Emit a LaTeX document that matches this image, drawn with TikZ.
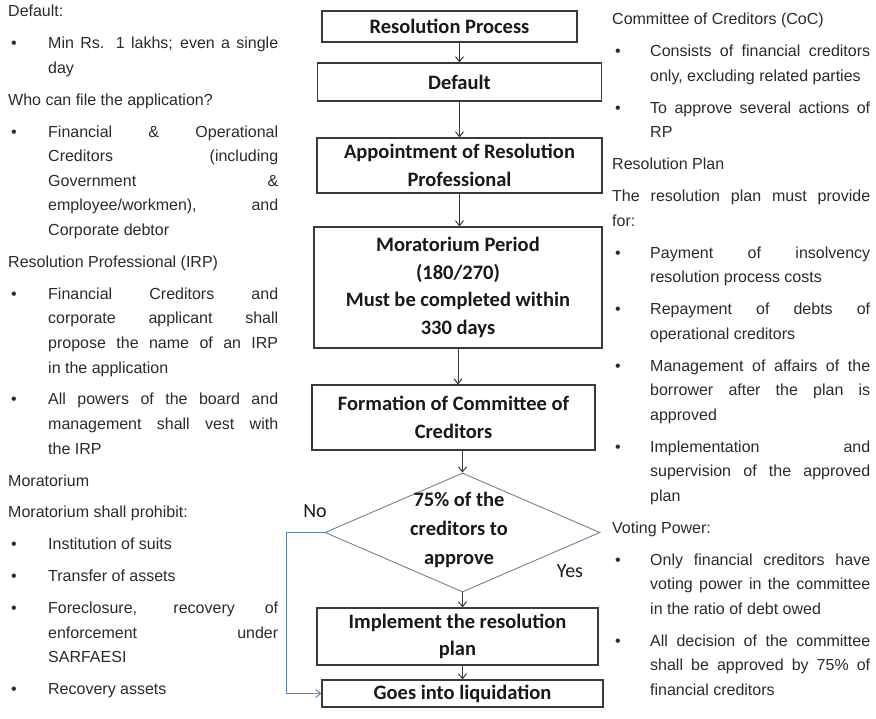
\documentclass[tikz,border=0pt]{standalone}
\usepackage{fontspec}
\setmainfont{Liberation Sans}
\newfontfamily\boxfont{Carlito}
\usetikzlibrary{positioning,shapes,arrows,arrows.meta}

\definecolor{notegray}{HTML}{2B2B2B}
\definecolor{boxgray}{HTML}{3A3A3A}
\definecolor{decblue}{HTML}{6E8398}
\definecolor{noblue}{HTML}{5C87BD}

\newcommand{\bul}[2][40pt]{\par\hangindent=#1\hangafter=1\noindent
  \makebox[#1][l]{\hspace{3pt}\textbullet}#2}

\begin{document}
\begin{tikzpicture}
[x=1pt, y=-1pt,
 stage/.style={draw=boxgray, line width=1.1pt, align=center, inner sep=0pt,
   text=black!90, font=\boxfont\bfseries\fontsize{20.5}{27.5}\selectfont},
 decision/.style={shape=diamond, draw=decblue, line width=0.9pt, inner sep=0pt,
   minimum width=275pt, minimum height=119pt},
 answer/.style={font=\boxfont\fontsize{20}{24}\selectfont, text=black!90},
 notes/.style={anchor=north west, inner sep=0pt, align=justify, text=notegray,
   font=\fontsize{16}{24.6}\selectfont,
   execute at begin node={\setlength{\parskip}{7.3pt}\setlength{\parindent}{0pt}}},
 flow/.style={-{Straight Barb[length=5pt,width=8pt]}, draw=boxgray, line width=1pt},
 noflow/.style={-{Straight Barb[length=5pt,width=8pt]}, draw=noblue, line width=1pt}]

\fill[white] (0,0) rectangle (876,719);
\useasboundingbox (0,0) rectangle (876,719);

% flow chart
\node[stage, minimum width=255pt, minimum height=31pt] (resproc) at (449.5,26.5) {Resolution Process};
\node[stage, minimum width=284pt, minimum height=38pt] (default) at (459.5,82) {Default};
\node[stage, minimum width=285pt, minimum height=55pt] (appoint) at (459.5,165.5) {Appointment of Resolution\\Professional};
\node[stage, minimum width=288pt, minimum height=121pt] (morat) at (458,287.5) {Moratorium Period\\(180/270)\\Must be completed within\\330 days};
\node[stage, minimum width=283pt, minimum height=65pt] (coc) at (453.5,417.5) {Formation of Committee of\\Creditors};
\node[decision] (vote) at (462.5,532.5) {};
\node[stage, draw=none, font=\boxfont\bfseries\fontsize{20.5}{29}\selectfont] (votetext) at (459,530) {75\% of the\\creditors to\\approve};
\node[stage, minimum width=281pt, minimum height=57pt] (implement) at (457.5,636.5) {Implement the resolution\\plan};
\node[stage, minimum width=281pt, minimum height=27pt] (liquid) at (462.5,693.5) {Goes into liquidation};

\draw[flow] (resproc.south -| default.north) -- (default.north);
\draw[flow] (default) -- (appoint);
\draw[flow] (appoint.south) -- (appoint.south |- morat.north);
\draw[flow] (morat.south) -- (morat.south |- coc.north);
\draw[flow] (coc.south -| vote.north) -- (vote.north);
\draw[flow] (vote.south) -- (vote.south |- implement.north);
\draw[flow] (implement.south -| liquid.north) -- (liquid.north);
\draw[noflow] (vote.west) -- ++(-38,0) |- (liquid.west);

\node[answer] (nolabel) at (315,511) {No};
\node[answer] (yeslabel) at (570,571) {Yes};

% notes
\node[notes, text width=270pt] (leftnotes) at (8,5) {Default:\par
\bul{Min Rs. 1 lakhs; even a single \linebreak day}\par
Who can file the application?\par
\bul{Financial \& Operational \linebreak Creditors (including \linebreak Government \& \linebreak employee/workmen), and \linebreak Corporate debtor}\par
Resolution Professional (IRP)\par
\bul{Financial Creditors and \linebreak corporate applicant shall \linebreak propose the name of an IRP \linebreak in the application}\par
\bul{All powers of the board and \linebreak management shall vest with \linebreak the IRP}\par
Moratorium\par
Moratorium shall prohibit:\par
\bul{Institution of suits}\par
\bul{Transfer of assets}\par
\bul{Foreclosure, recovery of \linebreak enforcement under \linebreak SARFAESI}\par
\bul{Recovery assets}\par};

\node[notes, text width=258pt] (rightnotes) at (612,13) {Committee of Creditors (CoC)\par
\bul[38pt]{Consists of financial creditors \linebreak only, excluding related parties}\par
\bul[38pt]{To approve several actions of \linebreak RP}\par
Resolution Plan\par
The resolution plan must provide \linebreak for:\par
\bul[38pt]{Payment of insolvency \linebreak resolution process costs}\par
\bul[38pt]{Repayment of debts of \linebreak operational creditors}\par
\bul[38pt]{Management of affairs of the \linebreak borrower after the plan is \linebreak approved}\par
\bul[38pt]{Implementation and \linebreak supervision of the approved \linebreak plan}\par
Voting Power:\par
\bul[38pt]{Only financial creditors have \linebreak voting power in the committee \linebreak in the ratio of debt owed}\par
\bul[38pt]{All decision of the committee \linebreak shall be approved by 75\% of \linebreak financial creditors}\par};
\end{tikzpicture}
\end{document}
